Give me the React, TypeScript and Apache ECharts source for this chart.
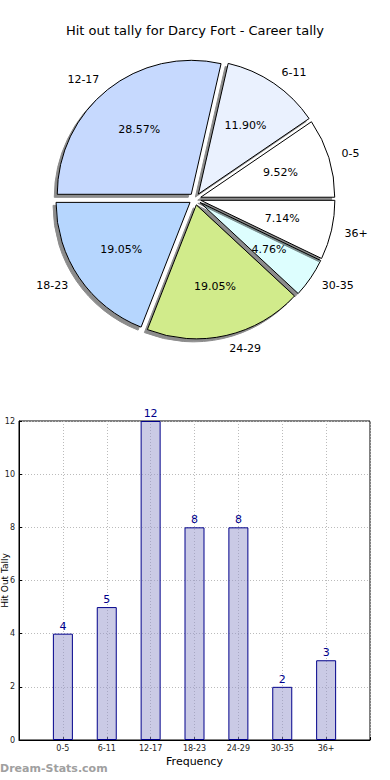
import React, { useEffect, useRef } from "react";
import * as echarts from "echarts";

const title = "Hit out tally for Darcy Fort - Career tally";
const categories = ["0-5", "6-11", "12-17", "18-23", "24-29", "30-35", "36+"];
const tally = [4, 5, 12, 8, 8, 2, 3];
const sliceColors = ["#ffffff", "#eaf1fe", "#c6d9fe", "#b6d6fe", "#d1eb8b", "#ddfefe", "#ffffff"];
const yTicks = { min: 0, max: 12, interval: 2 };

const FONT = "DejaVu Sans";

export default function App() {
  const ref = useRef<HTMLDivElement>(null);
  useEffect(() => {
    if (!ref.current) return;
    const chart = echarts.init(ref.current, undefined, { renderer: "svg" });
    const total = tally.reduce((a, b) => a + b, 0);
    const r = 134;
    const cx = 195;
    const cy = 199;
    const pieData = categories.map((c, i) => ({
      name: c,
      value: tally[i],
      selected: true,
      itemStyle: { color: sliceColors[i] },
    }));
    const labelData = categories.map((c, i) => ({
      name: c,
      value: tally[i],
      selected: true,
    }));
    chart.setOption({
      animation: false,
      textStyle: { fontFamily: FONT },
      title: {
        text: title,
        left: "center",
        top: 19,
        textStyle: { fontSize: 13, fontWeight: "normal", color: "#000", fontFamily: FONT },
      },
      graphic: [
        {
          type: "text",
          left: 0,
          top: 763,
          style: {
            text: "Dream-Stats.com",
            fontSize: 11,
            fontWeight: "bold",
            fontFamily: FONT,
            fill: "#a0a0a0",
          },
        },
      ],
      grid: {
        left: 19,
        right: 20,
        top: 421,
        bottom: 40,
        show: true,
        borderColor: "#000",
        borderWidth: 1,
        backgroundColor: "transparent",
        containLabel: false,
        outerBoundsMode: "none",
      },
      xAxis: {
        type: "value",
        min: -1,
        max: 7,
        interval: 1,
        name: "Frequency",
        nameLocation: "middle",
        nameGap: 16,
        nameMoveOverlap: false,
        nameTextStyle: { fontSize: 11, color: "#000", fontFamily: FONT },
        axisLine: { show: true, onZero: false, lineStyle: { color: "#000" } },
        axisTick: { show: true, inside: true, length: 3, lineStyle: { color: "#000" } },
        axisLabel: {
          fontSize: 8,
          color: "#222",
          margin: 4,
          formatter: (v: number) => (categories[v] !== undefined ? categories[v] : ""),
        },
        splitLine: { show: true, lineStyle: { color: "#bbbbbb", type: [1, 2] } },
      },
      yAxis: {
        type: "value",
        min: yTicks.min,
        max: yTicks.max,
        interval: yTicks.interval,
        name: "Hit Out Tally",
        nameLocation: "middle",
        nameGap: 10,
        nameMoveOverlap: false,
        nameTextStyle: { fontSize: 9, color: "#000", fontFamily: FONT },
        axisLine: { show: true, onZero: false, lineStyle: { color: "#000" } },
        axisTick: { show: true, inside: true, length: 3, lineStyle: { color: "#000" } },
        axisLabel: { fontSize: 8, color: "#222", margin: 4 },
        splitLine: { show: true, lineStyle: { color: "#bbbbbb", type: [1, 2] } },
      },
      series: [
        {
          type: "pie",
          center: [cx, cy],
          radius: [0, r],
          startAngle: 0,
          clockwise: false,
          selectedMode: "multiple",
          selectedOffset: 6,
          avoidLabelOverlap: false,
          data: pieData,
          itemStyle: {
            borderColor: "#000",
            borderWidth: 1,
            shadowBlur: 1,
            shadowColor: "rgba(0,0,0,0.45)",
            shadowOffsetX: -3,
            shadowOffsetY: 3,
          },
          label: {
            show: true,
            position: "outside",
            formatter: "{b}",
            fontSize: 11,
            color: "#000",
            fontFamily: FONT,
            distanceToLabelLine: 0,
          },
          labelLine: { show: false, length: r * 0.1, length2: 0 },
          emphasis: { disabled: true },
          silent: true,
        },
        {
          type: "pie",
          center: [cx, cy],
          radius: [0, r * 1.2],
          startAngle: 0,
          clockwise: false,
          selectedMode: "multiple",
          selectedOffset: 6,
          data: labelData,
          itemStyle: { color: "transparent", borderWidth: 0 },
          label: {
            show: true,
            position: "inside",
            fontSize: 11,
            color: "#000",
            fontFamily: FONT,
            formatter: (p: any) => ((p.value / total) * 100).toFixed(2) + "%",
          },
          labelLine: { show: false },
          emphasis: { disabled: true },
          silent: true,
          z: 5,
        },
        {
          type: "bar",
          data: tally.map((v, i) => [i, v]),
          barWidth: 20,
          itemStyle: {
            color: "rgba(150,150,204,0.5)",
            borderColor: "#00008b",
            borderWidth: 1,
          },
          label: {
            show: true,
            position: "top",
            distance: 2,
            fontSize: 11,
            color: "#00008b",
            fontFamily: FONT,
          },
          silent: true,
        },
      ],
    });
    return () => chart.dispose();
  }, []);
  return (
    <div
      ref={ref}
      style={{ position: "fixed", left: 0, top: 0, width: 390, height: 780, background: "#fff" }}
    />
  );
}
